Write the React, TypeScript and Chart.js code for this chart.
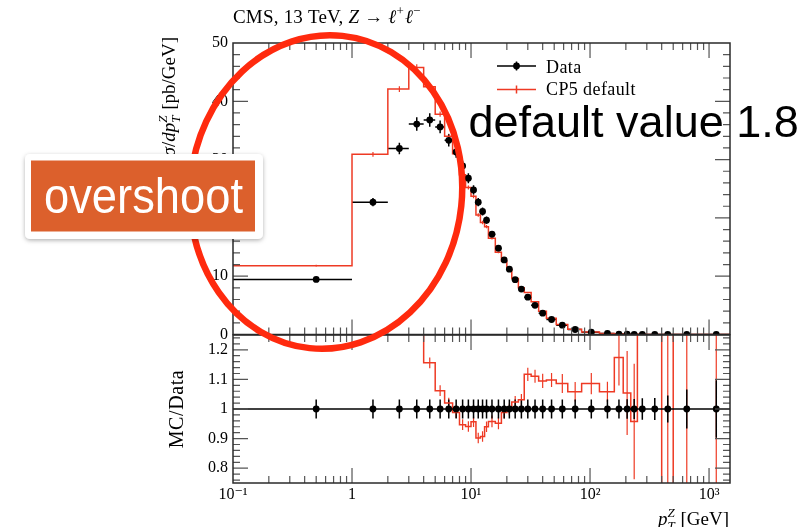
import React, { useEffect, useRef } from 'react';
import { Chart, registerables } from 'chart.js';

Chart.register(...registerables);

// ---------------- data ----------------
const binEdges = [0, 1, 2, 3, 4, 5, 6, 7, 8, 9, 10, 11, 12, 13, 14, 16, 18, 20, 22, 25, 28, 32, 37, 43, 52, 65, 85, 120, 160, 190, 220, 250, 300, 400, 500, 800, 1500];

const dataValues = [9.45, 22.7, 31.9, 36.1, 36.8, 35.6, 33.3, 31.3, 28.9, 26.8, 24.8, 22.7, 21.1, 19.6, 17.2, 14.8, 12.8, 11.2, 9.4, 7.8, 6.4, 5.0, 3.65, 2.57, 1.6, 0.86, 0.4, 0.17, 0.075, 0.045, 0.028, 0.016, 0.007, 0.0025, 0.0007, 0.00008];
const dataErrors = [0.3, 0.7, 1.0, 1.15, 1.15, 1.1, 1.05, 1.0, 0.92, 0.85, 0.79, 0.72, 0.67, 0.62, 0.55, 0.47, 0.41, 0.36, 0.3, 0.25, 0.2, 0.16, 0.12, 0.08, 0.05, 0.028, 0.013, 0.0055, 0.0024, 0.0015, 0.0009, 0.0006, 0.00026, 0.00011, 0.000045, 0.0000078];

const mcValues = [11.8, 30.9, 42.1, 45.8, 42.5, 37.8, 34.0, 31.0, 27.4, 25.2, 23.7, 20.5, 19.2, 18.5, 16.5, 14.1, 12.6, 11.2, 9.6, 8.0, 7.2, 5.6, 4.0, 2.8, 1.73, 0.91, 0.43, 0.18, 0.088, 0.047, 0.027, 0.03, 0.013, 0.001, 0.0011, 0.00015];
const mcErrors = [0.15, 0.4, 0.5, 0.55, 0.5, 0.45, 0.42, 0.4, 0.37, 0.35, 0.33, 0.3, 0.29, 0.28, 0.2, 0.18, 0.16, 0.15, 0.12, 0.1, 0.09, 0.07, 0.05, 0.035, 0.03, 0.02, 0.012, 0.006, 0.008, 0.006, 0.005, 0.008, 0.004, 0.003, 0.0007, 0.0001];

const ratioValues = [1.27, 1.36, 1.32, 1.27, 1.156, 1.062, 1.02, 0.988, 0.947, 0.941, 0.957, 0.902, 0.907, 0.94, 0.958, 0.952, 0.988, 0.999, 1.024, 1.031, 1.117, 1.111, 1.095, 1.098, 1.086, 1.058, 1.086, 1.058, 1.174, 1.054, 0.958, 1.9, 1.9, 0.4, 1.6, 1.9];
const ratioErrors = [0.02, 0.02, 0.02, 0.02, 0.018, 0.018, 0.018, 0.018, 0.018, 0.018, 0.018, 0.018, 0.018, 0.018, 0.02, 0.02, 0.02, 0.02, 0.02, 0.02, 0.022, 0.022, 0.024, 0.024, 0.032, 0.033, 0.036, 0.034, 0.095, 0.142, 0.195, 0.5, 0.5, 1.2, 1.0, 1.5];
const dataRatioValues = [1, 1, 1, 1, 1, 1, 1, 1, 1, 1, 1, 1, 1, 1, 1, 1, 1, 1, 1, 1, 1, 1, 1, 1, 1, 1, 1, 1, 1, 1, 1, 1, 1, 1, 1, 1];
const dataRatioErrors = [0.032, 0.032, 0.032, 0.032, 0.032, 0.032, 0.032, 0.032, 0.032, 0.032, 0.032, 0.032, 0.032, 0.032, 0.032, 0.032, 0.032, 0.032, 0.032, 0.032, 0.032, 0.032, 0.032, 0.032, 0.032, 0.032, 0.032, 0.032, 0.032, 0.033, 0.034, 0.036, 0.037, 0.046, 0.066, 0.097];

const xMin = 0.1;
const xMax = 1500;
const topYMin = 0;
const topYMax = 50;
const ratioMin = 0.75;
const ratioMax = 1.25;

const topYTicks = [0, 10, 20, 30, 40, 50];
const topYTickLabels = ['0', '10', '20', '30', '40', '50'];
const topYMinorStep = 2;
const ratioTicks = [0.8, 0.9, 1, 1.1, 1.2];
const ratioTickLabels = ['0.8', '0.9', '1', '1.1', '1.2'];
const ratioMinorStep = 0.02;
const xTicks = [0.1, 1, 10, 100, 1000];
const xTickLabels = ['10⁻¹', '1', '10¹', '10²', '10³'];

const legendLabels = ['Data', 'CP5 default'];

// ---------------- style ----------------
const SERIF = '"Liberation Serif", "DejaVu Serif", serif';
const SANS = '"Liberation Sans", Arial, sans-serif';
const DATA_COLOR = '#000000';
const MC_COLOR = '#ee3a24';
const FRAME_COLOR = '#2a2a2a';
const TICK_COLOR = '#555555';
const MAJOR_TICK = 15;
const MINOR_TICK = 7;

const binLows = binEdges.slice(0, -1);
const binHighs = binEdges.slice(1);
const binCenters = binLows.map((lo, i) => (lo + binHighs[i]) / 2);
const lowEdgeX = (v: number) => (v > 0 ? v : xMin / 10);

function stepPoints(values: number[]) {
  const pts = values.map((v, i) => ({ x: lowEdgeX(binLows[i]), y: v }));
  pts.push({ x: binHighs[binHighs.length - 1], y: values[values.length - 1] });
  return pts;
}

function centerPoints(values: number[]) {
  return values.map((v, i) => ({ x: binCenters[i], y: v }));
}

const serifFont = (size: number, italic = false) => `${italic ? 'italic ' : ''}${size}px ${SERIF}`;

type Rich = { t?: string; it?: boolean; sup?: string; sub?: string; scriptIt?: boolean };

function rich(ctx: CanvasRenderingContext2D, segs: Rich[], x: number, y: number, size: number, draw: boolean): number {
  let cx = x;
  const small = Math.round(size * 0.68);
  for (const s of segs) {
    if (s.t !== undefined) {
      ctx.font = serifFont(size, !!s.it);
      if (draw) ctx.fillText(s.t, cx, y);
      cx += ctx.measureText(s.t).width;
    } else {
      ctx.font = serifFont(small, !!s.scriptIt);
      let w = 0;
      if (s.sup) {
        if (draw) ctx.fillText(s.sup, cx, y - size * 0.42);
        w = Math.max(w, ctx.measureText(s.sup).width);
      }
      if (s.sub) {
        if (draw) ctx.fillText(s.sub, cx, y + size * 0.24);
        w = Math.max(w, ctx.measureText(s.sub).width);
      }
      cx += w + 1;
    }
  }
  return cx - x;
}

const titleSegs: Rich[] = [
  { t: 'CMS, 13 TeV, ' },
  { t: 'Z', it: true },
  { t: ' → ' },
  { t: 'ℓ', it: true },
  { sup: '+' },
  { t: 'ℓ', it: true },
  { sup: '−' },
];
const yTitleSegs: Rich[] = [
  { t: 'dσ', it: true },
  { t: '/' },
  { t: 'dp', it: true },
  { sup: 'Z', sub: 'T', scriptIt: true },
  { t: ' [pb/GeV]' },
];
const xTitleSegs: Rich[] = [
  { t: 'p', it: true },
  { sup: 'Z', sub: 'T', scriptIt: true },
  { t: ' [GeV]' },
];
const ratioTitleSegs: Rich[] = [{ t: 'MC/Data' }];

function clipToArea(chart: any) {
  const { ctx, chartArea: a } = chart;
  ctx.beginPath();
  ctx.rect(a.left, a.top, a.right - a.left, a.bottom - a.top);
  ctx.clip();
}

function drawErrorBars(chart: any, vals: number[], errs: number[], color: string, lw: number, withBins: boolean) {
  const { ctx } = chart;
  const xs = chart.scales.x;
  const ys = chart.scales.y;
  ctx.save();
  clipToArea(chart);
  ctx.strokeStyle = color;
  ctx.lineWidth = lw;
  ctx.beginPath();
  vals.forEach((v, i) => {
    const px = xs.getPixelForValue(binCenters[i]);
    ctx.moveTo(px, ys.getPixelForValue(v - errs[i]));
    ctx.lineTo(px, ys.getPixelForValue(v + errs[i]));
    if (withBins) {
      const py = ys.getPixelForValue(v);
      ctx.moveTo(xs.getPixelForValue(lowEdgeX(binLows[i])), py);
      ctx.lineTo(xs.getPixelForValue(binHighs[i]), py);
    }
  });
  ctx.stroke();
  ctx.restore();
}

function drawFrame(chart: any, yMajors: number[], yMinorStep: number) {
  const { ctx, chartArea: a } = chart;
  const xs = chart.scales.x;
  const ys = chart.scales.y;
  ctx.save();
  ctx.strokeStyle = TICK_COLOR;
  ctx.lineWidth = 1.2;
  ctx.beginPath();
  const d0 = Math.floor(Math.log10(xMin));
  const d1 = Math.ceil(Math.log10(xMax));
  for (let d = d0; d <= d1; d++) {
    for (let m = 1; m <= 9; m++) {
      const v = m * Math.pow(10, d);
      if (v <= xMin * 1.0001 || v >= xMax) continue;
      const px = xs.getPixelForValue(v);
      const len = m === 1 ? MAJOR_TICK : MINOR_TICK;
      ctx.moveTo(px, a.bottom);
      ctx.lineTo(px, a.bottom - len);
      ctx.moveTo(px, a.top);
      ctx.lineTo(px, a.top + len);
    }
  }
  const k0 = Math.ceil(ys.min / yMinorStep - 1e-6);
  const k1 = Math.floor(ys.max / yMinorStep + 1e-6);
  for (let k = k0; k <= k1; k++) {
    const v = k * yMinorStep;
    if (v <= ys.min + 1e-9 || v >= ys.max - 1e-9) continue;
    const major = yMajors.some((t) => Math.abs(t - v) < 1e-6);
    const len = major ? MAJOR_TICK : MINOR_TICK;
    const py = ys.getPixelForValue(v);
    ctx.moveTo(a.left, py);
    ctx.lineTo(a.left + len, py);
    ctx.moveTo(a.right, py);
    ctx.lineTo(a.right - len, py);
  }
  ctx.stroke();
  ctx.strokeStyle = FRAME_COLOR;
  ctx.lineWidth = 1.5;
  ctx.strokeRect(a.left, a.top, a.right - a.left, a.bottom - a.top);
  ctx.restore();
}

function yAxis(min: number, max: number, ticks: number[], labels: string[]) {
  return {
    type: 'linear',
    position: 'left',
    min,
    max,
    bounds: 'data',
    grid: { display: false, drawTicks: false },
    border: { display: false },
    afterFit: (s: any) => {
      s.width = 233;
    },
    afterBuildTicks: (s: any) => {
      s.ticks = ticks.map((v) => ({ value: v }));
    },
    ticks: {
      autoSkip: false,
      padding: 5,
      color: '#000',
      font: { family: SERIF, size: 16 },
      callback: (_v: any, i: number) => labels[i],
    },
  };
}

const topPlugin = {
  id: 'topPanel',
  beforeDatasetsDraw(chart: any) {
    drawErrorBars(chart, mcValues, mcErrors, MC_COLOR, 1.2, false);
    drawErrorBars(chart, dataValues, dataErrors, DATA_COLOR, 1.5, true);
  },
  afterDatasetsDraw(chart: any) {
    drawFrame(chart, topYTicks, topYMinorStep);
  },
  afterDraw(chart: any) {
    const { ctx } = chart;
    ctx.save();
    ctx.fillStyle = '#000';
    ctx.textAlign = 'left';
    ctx.textBaseline = 'alphabetic';
    // title
    (ctx as any).letterSpacing = '0.2px';
    rich(ctx, titleSegs, 233, 22.5, 19, true);
    // legend
    (ctx as any).letterSpacing = '0.4px';
    ctx.lineWidth = 1.5;
    ctx.strokeStyle = DATA_COLOR;
    ctx.beginPath();
    ctx.moveTo(497, 66);
    ctx.lineTo(536, 66);
    ctx.moveTo(516.5, 61.5);
    ctx.lineTo(516.5, 70.5);
    ctx.stroke();
    ctx.beginPath();
    ctx.arc(516.5, 66, 3.4, 0, Math.PI * 2);
    ctx.fill();
    ctx.strokeStyle = MC_COLOR;
    ctx.beginPath();
    ctx.moveTo(497, 89.5);
    ctx.lineTo(536, 89.5);
    ctx.moveTo(516.5, 85.5);
    ctx.lineTo(516.5, 93.5);
    ctx.stroke();
    ctx.font = serifFont(18);
    ctx.fillText(legendLabels[0], 546, 72.5);
    ctx.fillText(legendLabels[1], 546, 94.5);
    // y title
    (ctx as any).letterSpacing = '0px';
    const w = rich(ctx, yTitleSegs, 0, 0, 19, false);
    ctx.translate(175, 37 + w);
    ctx.rotate(-Math.PI / 2);
    rich(ctx, yTitleSegs, 0, 0, 19, true);
    ctx.restore();
  },
};

const bottomPlugin = {
  id: 'ratioPanel',
  beforeDatasetsDraw(chart: any) {
    drawErrorBars(chart, ratioValues, ratioErrors, MC_COLOR, 1.2, false);
    drawErrorBars(chart, dataRatioValues, dataRatioErrors, DATA_COLOR, 1.5, false);
  },
  afterDatasetsDraw(chart: any) {
    drawFrame(chart, ratioTicks, ratioMinorStep);
  },
  afterDraw(chart: any) {
    const { ctx, chartArea: a } = chart;
    ctx.save();
    ctx.fillStyle = '#000';
    ctx.textAlign = 'left';
    ctx.textBaseline = 'alphabetic';
    // x title, right aligned to the frame
    const wx = rich(ctx, xTitleSegs, 0, 0, 19, false);
    rich(ctx, xTitleSegs, a.right - 1 - wx, 205, 19, true);
    // ratio title
    (ctx as any).letterSpacing = '0.6px';
    const wr = rich(ctx, ratioTitleSegs, 0, 0, 20, false);
    ctx.translate(183, (a.top + a.bottom) / 2 + wr / 2);
    ctx.rotate(-Math.PI / 2);
    rich(ctx, ratioTitleSegs, 0, 0, 20, true);
    ctx.restore();
  },
};

export default function App() {
  const topRef = useRef<HTMLCanvasElement>(null);
  const botRef = useRef<HTMLCanvasElement>(null);

  useEffect(() => {
    const common = {
      responsive: false,
      animation: false,
      devicePixelRatio: 1,
      events: [],
      plugins: { legend: { display: false }, tooltip: { enabled: false } },
    };

    const top = new Chart(topRef.current as HTMLCanvasElement, {
      type: 'line',
      data: {
        datasets: [
          {
            type: 'scatter',
            data: centerPoints(dataValues),
            pointRadius: 3.4,
            pointBackgroundColor: DATA_COLOR,
            pointBorderWidth: 0,
            showLine: false,
          },
          {
            type: 'line',
            data: stepPoints(mcValues),
            borderColor: MC_COLOR,
            borderWidth: 1.5,
            pointRadius: 0,
            stepped: true,
            fill: false,
            clip: 0,
          },
        ],
      } as any,
      options: {
        ...common,
        layout: { autoPadding: false, padding: { left: 0, right: 80, top: 43, bottom: 15.5 } },
        scales: {
          x: { type: 'logarithmic', min: xMin, max: xMax, bounds: 'data', display: false },
          y: yAxis(topYMin, topYMax, topYTicks, topYTickLabels),
        },
      } as any,
      plugins: [topPlugin],
    });

    const bottom = new Chart(botRef.current as HTMLCanvasElement, {
      type: 'line',
      data: {
        datasets: [
          {
            type: 'scatter',
            data: centerPoints(dataRatioValues),
            pointRadius: 3.4,
            pointBackgroundColor: DATA_COLOR,
            pointBorderWidth: 0,
            showLine: false,
          },
          {
            type: 'line',
            data: stepPoints(dataRatioValues),
            borderColor: DATA_COLOR,
            borderWidth: 1.5,
            pointRadius: 0,
            stepped: true,
            fill: false,
            clip: 0,
          },
          {
            type: 'line',
            data: stepPoints(ratioValues),
            borderColor: MC_COLOR,
            borderWidth: 1.5,
            pointRadius: 0,
            stepped: true,
            fill: false,
            clip: 0,
          },
        ],
      } as any,
      options: {
        ...common,
        layout: { autoPadding: false, padding: { left: 0, right: 80, top: 15, bottom: 0 } },
        scales: {
          x: {
            type: 'logarithmic',
            position: 'bottom',
            min: xMin,
            max: xMax,
            bounds: 'data',
            grid: { display: false, drawTicks: false },
            border: { display: false },
            afterFit: (s: any) => {
              s.height = 44;
            },
            afterBuildTicks: (s: any) => {
              s.ticks = xTicks.map((v) => ({ value: v }));
            },
            ticks: {
              autoSkip: false,
              maxRotation: 0,
              minRotation: 0,
              padding: 2,
              color: '#000',
              font: { family: SERIF, size: 16 },
              callback: (_v: any, i: number) => xTickLabels[i],
            },
          },
          y: yAxis(ratioMin, ratioMax, ratioTicks, ratioTickLabels),
        },
      } as any,
      plugins: [bottomPlugin],
    });

    return () => {
      top.destroy();
      bottom.destroy();
    };
  }, []);

  return (
    <div style={{ position: 'absolute', left: 0, top: 0, width: 810, height: 527, overflow: 'hidden', background: '#fff' }}>
      <canvas ref={topRef} width={810} height={350} style={{ position: 'absolute', left: 0, top: 0, width: 810, height: 350 }} />
      <canvas ref={botRef} width={810} height={207} style={{ position: 'absolute', left: 0, top: 320, width: 810, height: 207 }} />
      <svg width={810} height={527} style={{ position: 'absolute', left: 0, top: 0, pointerEvents: 'none' }}>
        <defs>
          <filter id="boxShadow" x="-10%" y="-20%" width="120%" height="150%">
            <feDropShadow dx="0" dy="1.5" stdDeviation="2" floodColor="#000" floodOpacity="0.3" />
          </filter>
        </defs>
        <ellipse cx={326} cy={192} rx={136} ry={157} transform="rotate(6 326 192)" fill="none" stroke="#ff2a0e" strokeWidth={6.5} />
        <rect x={25} y={154} width={238} height={85} rx={5} fill="#ffffff" filter="url(#boxShadow)" />
        <rect x={31} y={160.5} width={224} height={71} fill="#dc602c" />
        <text x={44} y={212.5} fontFamily={SANS} fontSize={50} fill="#ffffff" textLength={199} lengthAdjust="spacingAndGlyphs">
          overshoot
        </text>
        <text x={468.5} y={137} fontFamily={SANS} fontSize={45} fill="#000000">
          default value 1.8
        </text>
      </svg>
    </div>
  );
}
